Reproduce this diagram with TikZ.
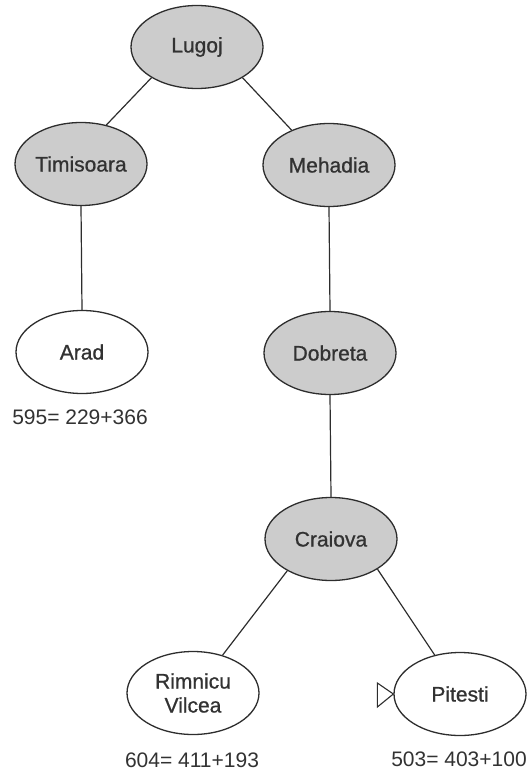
\documentclass[tikz,border=0pt]{standalone}
\usepackage{fontspec}
\setmainfont{Liberation Sans}
\newfontfamily\citytext{Liberation Sans}[FakeBold=0.8]
\usetikzlibrary{shapes.geometric}
\definecolor{inkline}{RGB}{45,45,45}
\definecolor{inktext}{RGB}{50,50,50}
\definecolor{visited}{RGB}{204,204,204}
\tikzset{
  city/.style={ellipse, draw=inkline, line width=1.3pt, minimum width=132pt,
    minimum height=83pt, inner sep=0pt, text=inktext, align=center,
    font=\citytext\fontsize{21}{24}\selectfont},
  expanded/.style={city, fill=visited},
  frontier/.style={city, fill=white},
  cost/.style={text=inktext, font=\fontsize{21}{24}\selectfont, inner sep=0pt},
  link/.style={draw=inkline, line width=1.2pt},
  marker/.style={draw=inkline, line width=1.1pt, fill=white, line join=miter}
}
\begin{document}
\begin{tikzpicture}[x=1pt, y=-1pt]
  \useasboundingbox (0,0) rectangle (528,778);

  % search tree nodes
  \node[expanded] (lugoj)     at (197,47)  {Lugoj};
  \node[expanded] (timisoara) at (81,164)  {Timisoara};
  \node[expanded] (mehadia)   at (329,165) {Mehadia};
  \node[frontier] (arad)      at (82,352)  {Arad};
  \node[expanded] (dobreta)   at (330,353) {Dobreta};
  \node[expanded] (craiova)   at (331,539) {Craiova};
  \node[frontier] (rimnicu)   at (193,693) {Rimnicu\\Vilcea};
  \node[frontier] (pitesti)   at (460,694) {Pitesti};

  % f = g + h annotations
  \node[cost] (farad)    at (80,417)  {595= 229+366};
  \node[cost] (frimnicu) at (192,760) {604= 411+193};
  \node[cost] (fpitesti) at (459,759) {503= 403+100};

  % tree edges
  \draw[link] (lugoj.214) -- (timisoara.57);
  \draw[link] (lugoj.326) -- (mehadia.137);
  \draw[link] (timisoara.south) -- (arad.north);
  \draw[link] (mehadia.south) -- (dobreta.north);
  \draw[link] (dobreta.south) -- (craiova.north);
  \draw[link] (craiova.216) -- (rimnicu.52);
  \draw[link] (craiova.327) -- (pitesti.123);

  % pointer to the next node to expand
  \coordinate (tip) at (pitesti.west);
  \draw[marker] (tip) -- ++(-16,-11) -- ++(0,24) -- cycle;
\end{tikzpicture}
\end{document}
